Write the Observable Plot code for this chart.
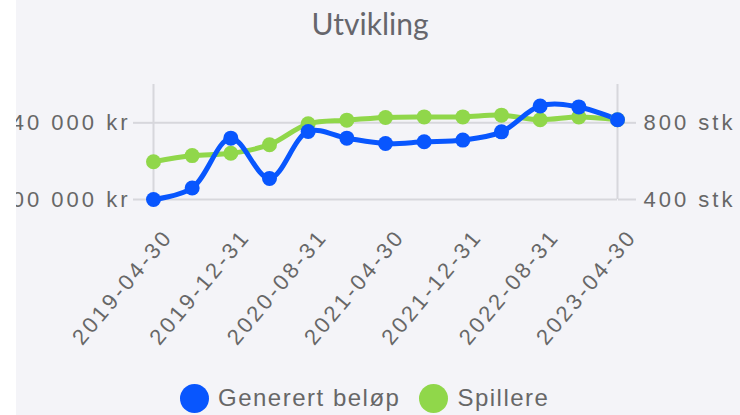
<!DOCTYPE html>
<html><head><meta charset="utf-8">
<script src="https://cdn.jsdelivr.net/npm/d3@7"></script>
<script src="https://cdn.jsdelivr.net/npm/@observablehq/plot@0.6"></script>
<style>
html,body{margin:0;padding:0;background:#fff;width:740px;height:415px;overflow:hidden}
#wrap{position:absolute;left:16px;top:0;width:724px;height:415px;overflow:hidden;background:#f4f4f8}
#inner{position:absolute;left:-16px;top:0;width:740px;height:415px}
#title{position:absolute;left:0;top:3px;width:740px;text-align:center;font-family:Lato,"Open Sans",sans-serif;font-weight:400;font-size:30px;color:#66666c;line-height:40px}
#plot{position:absolute;left:0;top:48px}
#legend{position:absolute;left:180px;top:383px;height:30px;display:flex;align-items:center;font-family:"Liberation Sans",Arial,sans-serif;font-size:24px;letter-spacing:1.5px;color:#676767}
#legend .dot{width:29px;height:29px;border-radius:50%;margin-right:9px;flex:none}
#legend .lab{margin-right:19px;white-space:nowrap}
</style>
</head><body>
<div id="wrap"><div id="inner">
  <div id="title">Utvikling</div>
  <div id="plot"></div>
  <div id="legend"></div>
</div></div>
<script>
// ---- data ----
const dates = ["2019-04-30","2019-08-31","2019-12-31","2020-04-30","2020-08-31","2020-12-31","2021-04-30","2021-08-31","2021-12-31","2022-04-30","2022-08-31","2022-12-31","2023-04-30"];
const amount = [300000, 306000, 332000, 311000, 335500, 332000, 329200, 330100, 331000, 335300, 348800, 348300, 341600];
const players = [597, 629, 641, 686, 795, 814, 828, 831, 831, 840, 816, 831, 816];
const xTicks = ["2019-04-30","2019-12-31","2020-08-31","2021-04-30","2021-12-31","2022-08-31","2023-04-30"];
const leftTicks = [300000, 340000];
const rightTicks = [400, 800];
const seriesNames = ["Generert beløp", "Spillere"];
const seriesColors = ["#0856fe", "#90d74a"];

// ---- scales ----
const leftDomain = [300000, 360000];
const rightDomain = [400, 1000];
const toLeft = d3.scaleLinear().domain(rightDomain).range(leftDomain);

const blueData = dates.map((d, i) => ({date: d, v: amount[i]}));
const greenData = dates.map((d, i) => ({date: d, v: toLeft(players[i])}));

const fmtKr = v => d3.format(",")(v).replace(/,/g, " ") + " kr";
const fmtStk = v => Math.round(toLeft.invert(v)) + " stk";
const gridColor = "#d7d7dc";
const textColor = "#676767";

const chart = Plot.plot({
  width: 740,
  height: 312,
  marginTop: 36,
  marginBottom: 161,
  marginLeft: 153,
  marginRight: 123,
  style: {background: "transparent", overflow: "visible", fontFamily: "'Liberation Sans', Arial, sans-serif", fontSize: "22px", letterSpacing: "3px", color: textColor},
  x: {type: "point", domain: dates, padding: 0, round: false, label: null},
  y: {domain: leftDomain, label: null},
  marks: [
    Plot.gridY(leftTicks, {stroke: gridColor, strokeOpacity: 1, strokeWidth: 2}),
    Plot.ruleX([dates[0], dates[dates.length - 1]], {stroke: gridColor, strokeWidth: 2}),
    Plot.axisY(leftTicks, {anchor: "left", tickSize: 20, tickPadding: 3, stroke: gridColor, strokeWidth: 2, fill: textColor, tickFormat: fmtKr, label: null}),
    Plot.axisY(rightTicks.map(toLeft), {anchor: "right", tickSize: 18, tickPadding: 8, stroke: gridColor, strokeWidth: 2, fill: textColor, tickFormat: fmtStk, label: null}),
    Plot.axisX(xTicks, {anchor: "bottom", tickSize: 0, tickPadding: 0, tickRotate: -50, textAnchor: "end", dx: 15, dy: 33, fill: textColor, label: null}),
    Plot.line(greenData, {x: "date", y: "v", stroke: seriesColors[1], strokeWidth: 5, curve: "catmull-rom"}),
    Plot.line(blueData, {x: "date", y: "v", stroke: seriesColors[0], strokeWidth: 5, curve: "catmull-rom"}),
    Plot.dot(greenData, {x: "date", y: "v", r: 7.5, fill: seriesColors[1], stroke: "none"}),
    Plot.dot(blueData, {x: "date", y: "v", r: 7.5, fill: seriesColors[0], stroke: "none"})
  ]
});
document.getElementById("plot").appendChild(chart);

const legend = document.getElementById("legend");
seriesNames.forEach((n, i) => {
  const dot = document.createElement("span");
  dot.className = "dot";
  dot.style.background = seriesColors[i];
  const lab = document.createElement("span");
  lab.className = "lab";
  lab.textContent = n;
  legend.appendChild(dot);
  legend.appendChild(lab);
});
</script>
</body></html>
